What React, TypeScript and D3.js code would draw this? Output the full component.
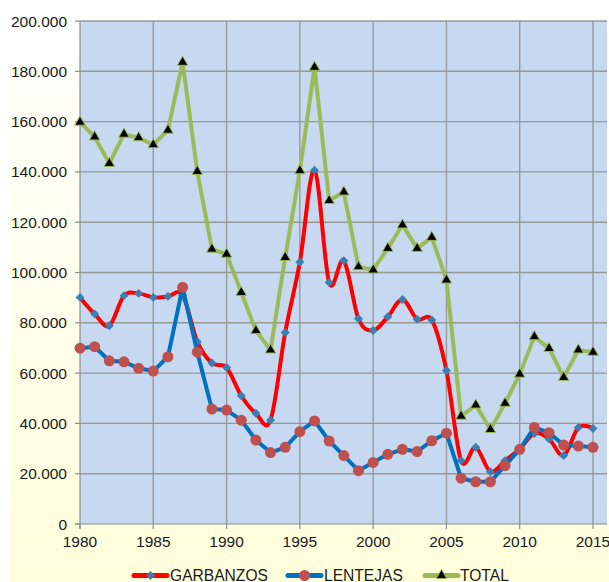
import { useEffect, useRef } from "react";
import * as d3 from "d3";

const years = d3.range(1980, 2016);
const garbanzos = [
  90100, 83500, 78800, 90800, 91700, 90100, 90500, 91000, 72500, 64000,
  62200, 51000, 44000, 41300, 76100, 104200, 140700, 96000, 104700, 81600,
  76900, 82400, 89300, 81400, 81100, 61000, 25200, 30500, 20800, 25200,
  29800, 36000, 33800, 27200, 38400, 38000,
];
const lentejas = [
  69900, 70500, 64900, 64500, 61900, 60800, 66500, 94100, 68300, 45700,
  45300, 41300, 33400, 28400, 30500, 36700, 41000, 33000, 27200, 21200,
  24500, 27700, 29700, 28800, 33100, 36100, 18200, 16800, 16800, 23200,
  29700, 38400, 36300, 31400, 31000, 30500,
];
const total = [
  159800, 153900, 143400, 155000, 153600, 150800, 156600, 183600, 140200, 109300,
  107300, 92100, 76900, 69200, 106000, 140500, 181600, 128600, 132000, 102300,
  101000, 109600, 118900, 109600, 114000, 97000, 42900, 47300, 37600, 48000,
  59600, 74500, 69800, 58300, 69200, 68300,
];
const yTicks = d3.range(0, 200001, 20000);
const xTicks = [1980, 1985, 1990, 1995, 2000, 2005, 2010, 2015];

const W = 609;
const H = 582;
const FONT = "'Liberation Sans', Arial, sans-serif";

const fmt = d3
  .formatLocale({ decimal: ",", thousands: ".", grouping: [3], currency: ["", ""] })
  .format(",");

type Marker = "diamond" | "circle" | "triangle";
interface Series {
  name: string;
  values: number[];
  color: string;
  marker: Marker;
  markerFill: string;
  smooth: boolean;
}

const series: Series[] = [
  { name: "GARBANZOS", values: garbanzos, color: "#ff0000", marker: "diamond", markerFill: "#3b7fb3", smooth: true },
  { name: "LENTEJAS", values: lentejas, color: "#0070c0", marker: "circle", markerFill: "#c0504d", smooth: false },
  { name: "TOTAL", values: total, color: "#9bbb59", marker: "triangle", markerFill: "#000000", smooth: false },
];

function drawMarker(
  g: d3.Selection<SVGGElement, unknown, null, undefined>,
  s: Series,
  cx: number,
  cy: number
) {
  if (s.marker === "circle") {
    g.append("circle").attr("cx", cx).attr("cy", cy).attr("r", 5.5).attr("fill", s.markerFill);
  } else if (s.marker === "diamond") {
    g.append("path")
      .attr("d", d3.symbol(d3.symbolSquare, 40)()!)
      .attr("transform", `translate(${cx},${cy}) rotate(45)`)
      .attr("fill", s.markerFill);
  } else {
    g.append("path")
      .attr("d", d3.symbol(d3.symbolTriangle, 48)()!)
      .attr("transform", `translate(${cx},${cy})`)
      .attr("fill", s.markerFill)
      .attr("stroke", s.color)
      .attr("stroke-width", 1);
  }
}

export default function App() {
  const ref = useRef<SVGSVGElement | null>(null);

  useEffect(() => {
    if (!ref.current) return;
    const svg = d3.select(ref.current);
    svg.selectAll("*").remove();

    const plot = { left: 80, right: 607, top: 21, bottom: 524 };
    const x = d3.scaleLinear().domain([1980, 2015]).range([plot.left, 593]);
    const y = d3.scaleLinear().domain([0, 200000]).range([plot.bottom, plot.top]);

    // background
    const grad = svg.append("defs").append("linearGradient")
      .attr("id", "bg").attr("x1", 0).attr("y1", 0).attr("x2", 0).attr("y2", 1);
    grad.append("stop").attr("offset", 0).attr("stop-color", "#ffffff");
    grad.append("stop").attr("offset", 0.35).attr("stop-color", "#fffff2");
    grad.append("stop").attr("offset", 1).attr("stop-color", "#ffffdc");
    svg.append("rect").attr("width", W).attr("height", H).attr("fill", "#ffffff");
    svg.append("rect").attr("x", 10).attr("y", 0).attr("width", W - 10).attr("height", H).attr("fill", "url(#bg)");

    svg.append("rect")
      .attr("x", plot.left).attr("y", plot.top)
      .attr("width", plot.right - plot.left).attr("height", plot.bottom - plot.top)
      .attr("fill", "#c6d9f1");

    // grid
    const grid = svg.append("g").attr("stroke", "#989898").attr("stroke-width", 1.4);
    grid.selectAll("line.h").data(yTicks.slice(1)).join("line")
      .attr("x1", plot.left).attr("x2", plot.right)
      .attr("y1", (d) => y(d)).attr("y2", (d) => y(d));
    grid.selectAll("line.v").data(xTicks.slice(1)).join("line")
      .attr("x1", (d) => x(d)).attr("x2", (d) => x(d))
      .attr("y1", plot.top).attr("y2", plot.bottom);

    // axes
    const axis = svg.append("g").attr("stroke", "#8c8c8c").attr("stroke-width", 1.2);
    axis.append("line").attr("x1", plot.left).attr("x2", plot.left).attr("y1", plot.top).attr("y2", plot.bottom + 5);
    axis.append("line").attr("x1", plot.left - 5).attr("x2", plot.right).attr("y1", plot.bottom).attr("y2", plot.bottom);
    axis.selectAll("line.yt").data(yTicks).join("line")
      .attr("x1", plot.left - 5).attr("x2", plot.left)
      .attr("y1", (d) => y(d)).attr("y2", (d) => y(d));
    axis.selectAll("line.xt").data(xTicks).join("line")
      .attr("x1", (d) => x(d)).attr("x2", (d) => x(d))
      .attr("y1", plot.bottom).attr("y2", plot.bottom + 5);

    svg.append("g").selectAll("text").data(yTicks).join("text")
      .attr("x", 67).attr("y", (d) => y(d) + 5.5)
      .attr("text-anchor", "end")
      .attr("font-family", FONT).attr("font-size", 15.5).attr("fill", "#1a1a1a")
      .text((d) => fmt(d));

    svg.append("g").selectAll("text").data(xTicks).join("text")
      .attr("x", (d) => x(d)).attr("y", 547)
      .attr("text-anchor", "middle")
      .attr("font-family", FONT).attr("font-size", 15.5).attr("fill", "#1a1a1a")
      .text((d) => String(d));

    // series
    for (const s of series) {
      const line = d3.line<number>()
        .x((_, i) => x(years[i]))
        .y((d) => y(d))
        .curve(s.smooth ? d3.curveCardinal.tension(0) : d3.curveLinear);
      const g = svg.append("g");
      g.append("path").datum(s.values).attr("d", line)
        .attr("fill", "none").attr("stroke", s.color)
        .attr("stroke-width", 4).attr("stroke-linejoin", "round");
      s.values.forEach((v, i) => drawMarker(g, s, x(years[i]), y(v)));
    }

    // legend
    const legendPos = [
      { lx: 134, tx: 170 },
      { lx: 288, tx: 324 },
      { lx: 425, tx: 460 },
    ];
    series.forEach((s, i) => {
      const p = legendPos[i];
      const g = svg.append("g");
      g.append("line").attr("x1", p.lx).attr("x2", p.lx + 33)
        .attr("y1", 575.5).attr("y2", 575.5)
        .attr("stroke", s.color).attr("stroke-width", 5).attr("stroke-linecap", "round");
      drawMarker(g, s, p.lx + 16.5, 575.5);
      g.append("text").attr("x", p.tx).attr("y", 580.5)
        .attr("font-family", FONT).attr("font-size", 15.6).attr("fill", "#1a1a1a")
        .text(s.name);
    });
  }, []);

  return (
    <svg
      ref={ref}
      width={W}
      height={H}
      style={{ position: "absolute", left: 0, top: 0, display: "block" }}
    />
  );
}
